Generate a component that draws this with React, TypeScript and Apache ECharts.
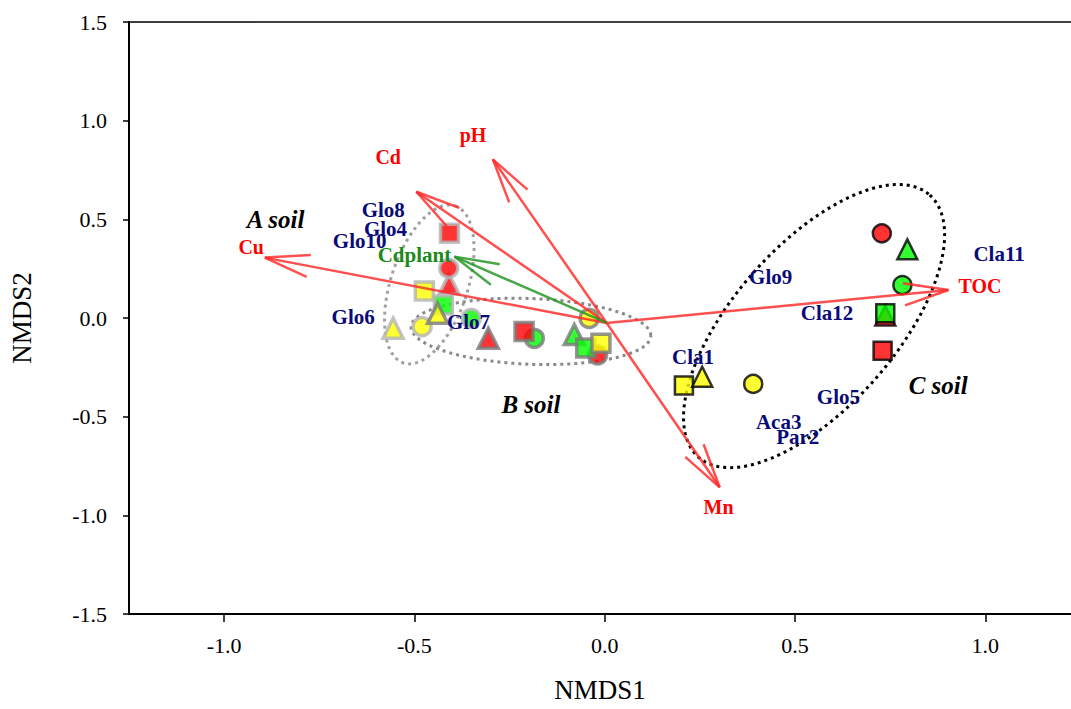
import React, { useEffect, useRef } from "react";
import * as echarts from "echarts";

const xTicks = [-1.0, -0.5, 0.0, 0.5, 1.0];

// [treatment, shape, NMDS1, NMDS2]
const soilA: [string, string, number, number][] = [
  ["yellow", "triangle", -0.556, -0.052],
  ["yellow", "circle", -0.48, -0.044],
  ["green", "circle", -0.351, -0.002],
  ["red", "rect", -0.408, 0.43],
  ["red", "triangle", -0.409, 0.172],
  ["red", "circle", -0.41, 0.252],
  ["yellow", "rect", -0.474, 0.137],
  ["green", "rect", -0.424, 0.066],
];
const soilB: [string, string, number, number][] = [
  ["yellow", "circle", -0.041, -0.002],
  ["yellow", "triangle", -0.439, 0.024],
  ["red", "triangle", -0.306, -0.103],
  ["green", "circle", -0.185, -0.103],
  ["red", "rect", -0.212, -0.069],
  ["green", "triangle", -0.08, -0.084],
  ["red", "circle", -0.019, -0.187],
  ["green", "rect", -0.05, -0.152],
  ["yellow", "rect", -0.01, -0.128],
];
const soilC: [string, string, number, number][] = [
  ["red", "circle", 0.728, 0.429],
  ["green", "triangle", 0.795, 0.348],
  ["green", "circle", 0.782, 0.167],
  ["red", "triangle", 0.737, 0.013],
  ["green", "rect", 0.737, 0.024],
  ["red", "rect", 0.73, -0.166],
  ["yellow", "rect", 0.208, -0.342],
  ["yellow", "triangle", 0.256, -0.298],
  ["yellow", "circle", 0.39, -0.334],
];

// environmental fitting vectors
const envOrigin = [0.005, -0.025];
const envVectors: [string, number, number][] = [
  ["Cu", -0.893, 0.306],
  ["Cd", -0.495, 0.64],
  ["pH", -0.294, 0.804],
  ["TOC", 0.903, 0.142],
  ["Mn", 0.302, -0.858],
];
const plantVectors: [string, number, number][] = [["Cdplant", -0.395, 0.311]];

// label positions (NMDS1, NMDS2)
const envLabels: [string, number, number][] = [
  ["Cu", -0.929, 0.361],
  ["Cd", -0.569, 0.818],
  ["pH", -0.346, 0.928],
  ["TOC", 0.986, 0.162],
  ["Mn", 0.299, -0.956],
];
const plantLabels: [string, number, number][] = [["Cdplant", -0.5, 0.319]];
const speciesLabels: [string, number, number][] = [
  ["Glo8", -0.582, 0.547],
  ["Glo4", -0.576, 0.452],
  ["Glo10", -0.644, 0.391],
  ["Glo6", -0.661, 0.004],
  ["Glo7", -0.358, -0.019],
  ["Glo9", 0.436, 0.209],
  ["Cla12", 0.584, 0.027],
  ["Cla11", 1.036, 0.324],
  ["Cla1", 0.232, -0.199],
  ["Glo5", 0.614, -0.399],
  ["Aca3", 0.457, -0.529],
  ["Par2", 0.507, -0.602],
];
const groupLabels: [string, number, number][] = [
  ["A soil", -0.865, 0.5],
  ["B soil", -0.194, -0.436],
  ["C soil", 0.876, -0.34],
];

// confidence ellipses: [group, centre x, centre y, axis1 x, axis1 y, axis2 x, axis2 y]
const ellipses: [string, number, number, number, number, number, number][] = [
  ["A", -0.461, 0.17, 0.068, 0.398, 0.096, -0.062],
  ["B", -0.194, -0.068, 0.315, -0.02, -0.003, 0.167],
  ["C", 0.55, -0.041, 0.304, 0.664, 0.159, -0.272],
];

const fillColors: Record<string, string> = {
  red: "#ff0000",
  green: "#00ff00",
  yellow: "#ffff00",
};
const ellipseColors: Record<string, string> = { A: "#a0a0a0", B: "#8a8a8a", C: "#000000" };

const SERIF = "'Liberation Serif', 'Times New Roman', serif";

function pointSeries(name: string, rows: [string, string, number, number][], border: string, bw: number) {
  return {
    type: "scatter",
    name,
    z: 3,
    data: rows.map((r) => ({
      value: [r[2], r[3]],
      symbol: r[1],
      symbolSize: r[1] === "triangle" ? 20 : 18,
      itemStyle: { color: fillColors[r[0]], borderColor: border, borderWidth: bw },
    })),
  };
}

function textSeries(rows: [string, number, number][], color: string, font: string, z: number) {
  return {
    type: "custom",
    z,
    data: rows.map((r) => [r[1], r[2]]),
    encode: { x: 0, y: 1 },
    renderItem: (params: any, api: any) => {
      const p = api.coord([api.value(0), api.value(1)]);
      return {
        type: "text",
        x: p[0],
        y: p[1],
        style: {
          text: rows[params.dataIndex][0],
          fill: color,
          font,
          align: "center",
          verticalAlign: "middle",
        },
      };
    },
  };
}

function arrowSeries(rows: [string, number, number][], color: string) {
  return {
    type: "custom",
    z: 5,
    data: rows.map((r) => [envOrigin[0], envOrigin[1], r[1], r[2]]),
    encode: { x: [0, 2], y: [1, 3] },
    renderItem: (params: any, api: any) => {
      const p0 = api.coord([api.value(0), api.value(1)]);
      const p1 = api.coord([api.value(2), api.value(3)]);
      const ang = Math.atan2(p0[1] - p1[1], p0[0] - p1[0]);
      const L = 46;
      const h = (14 * Math.PI) / 180;
      const b1 = [p1[0] + L * Math.cos(ang + h), p1[1] + L * Math.sin(ang + h)];
      const b2 = [p1[0] + L * Math.cos(ang - h), p1[1] + L * Math.sin(ang - h)];
      const st = { stroke: color, lineWidth: 2.5, fill: "none" };
      return {
        type: "group",
        children: [
          { type: "line", shape: { x1: p0[0], y1: p0[1], x2: p1[0], y2: p1[1] }, style: st },
          { type: "polyline", shape: { points: [b1, p1, b2] }, style: st },
        ],
      };
    },
  };
}

const ellipseSeries = {
  type: "custom",
  z: 2,
  data: ellipses.map((e) => [e[1], e[2], e[3], e[4], e[5], e[6]]),
  encode: { x: 0, y: 1 },
  renderItem: (params: any, api: any) => {
    const e = ellipses[params.dataIndex];
    const pts: number[][] = [];
    const n = 120;
    for (let i = 0; i <= n; i++) {
      const t = (2 * Math.PI * i) / n;
      const x = e[1] + e[3] * Math.cos(t) + e[5] * Math.sin(t);
      const y = e[2] + e[4] * Math.cos(t) + e[6] * Math.sin(t);
      pts.push(api.coord([x, y]));
    }
    return {
      type: "polyline",
      shape: { points: pts },
      style: {
        stroke: ellipseColors[e[0]],
        lineWidth: 3,
        lineDash: [3, 4],
        fill: "none",
      },
    };
  },
};

export default function App() {
  const ref = useRef<HTMLDivElement>(null);
  useEffect(() => {
    if (!ref.current) return;
    const chart = echarts.init(ref.current, null, { renderer: "svg" });
    const axisFont = { fontFamily: SERIF, color: "#000", fontSize: 22 };
    chart.setOption({
      animation: false,
      backgroundColor: "#ffffff",
      grid: { left: 128, top: 22, right: 0, bottom: 95 },
      xAxis: [
        {
          type: "value",
          min: -1.25,
          max: 1.225,
          position: "bottom",
          axisLine: { show: true, onZero: false, lineStyle: { color: "#000", width: 2 } },
          axisTick: { show: true, customValues: xTicks, length: 8, lineStyle: { color: "#000", width: 1.5 } },
          axisLabel: { ...axisFont, customValues: xTicks, margin: 20, formatter: (v: number) => v.toFixed(1) },
          splitLine: { show: false },
          name: "NMDS1",
          nameLocation: "middle",
          nameGap: 62,
          nameTextStyle: { fontFamily: SERIF, color: "#000", fontSize: 27 },
        },
        {
          type: "value",
          min: -1.25,
          max: 1.225,
          position: "top",
          axisLine: { show: true, onZero: false, lineStyle: { color: "#000", width: 1.5 } },
          axisTick: { show: false },
          axisLabel: { show: false },
          splitLine: { show: false },
        },
      ],
      yAxis: [
        {
          type: "value",
          min: -1.5,
          max: 1.5,
          interval: 0.5,
          axisLine: { show: true, onZero: false, lineStyle: { color: "#000", width: 2 } },
          axisTick: { show: true, length: 6, lineStyle: { color: "#000", width: 1.5 } },
          axisLabel: { ...axisFont, margin: 22, formatter: (v: number) => v.toFixed(1) },
          splitLine: { show: false },
          name: "NMDS2",
          nameLocation: "middle",
          nameGap: 94,
          nameRotate: 90,
          nameTextStyle: { fontFamily: SERIF, color: "#000", fontSize: 27 },
        },
      ],
      series: [
        ellipseSeries,
        pointSeries("A soil", soilA, "#b4b4b4", 3.5),
        pointSeries("B soil", soilB, "#7a7a7a", 3.5),
        pointSeries("C soil", soilC, "#000000", 2.5),
        arrowSeries(envVectors, "rgba(255,40,40,0.82)"),
        arrowSeries(plantVectors, "rgba(40,150,40,0.85)"),
        textSeries(speciesLabels, "#0a0a78", `bold 21px ${SERIF}`, 6),
        textSeries(envLabels, "#ff0000", `bold 20px ${SERIF}`, 6),
        textSeries(plantLabels, "#1a8a1a", `bold 21px ${SERIF}`, 6),
        textSeries(groupLabels, "#000000", `italic bold 25px ${SERIF}`, 6),
      ],
    });
    return () => chart.dispose();
  }, []);
  return (
    <div
      ref={ref}
      style={{ position: "fixed", left: 0, top: 0, width: 1071, height: 709, background: "#fff" }}
    />
  );
}
